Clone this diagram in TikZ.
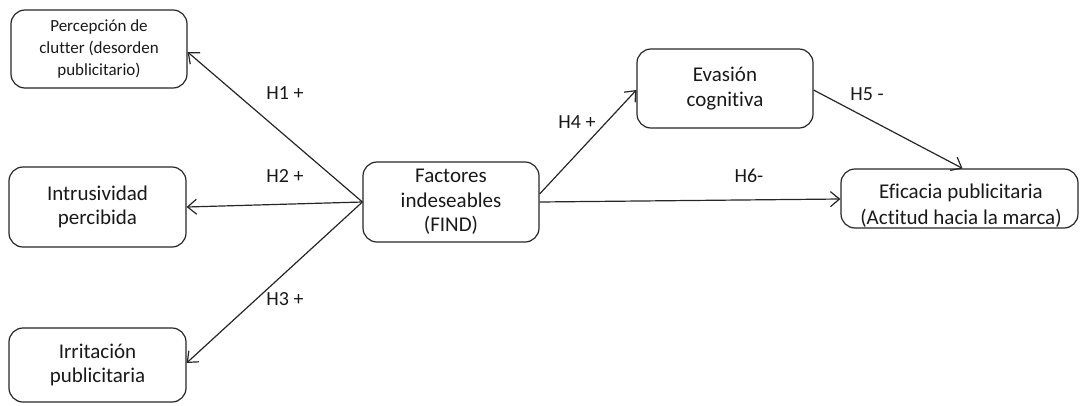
\documentclass[tikz,border=0pt]{standalone}
\usepackage{fontspec}
\setmainfont{Carlito}[Ligatures={NoCommon}]
\usetikzlibrary{arrows.meta,calc}

\tikzset{
  box/.style={draw=black!85, line width=1.2pt, rounded corners=14pt, align=center,
              inner sep=0pt, font=\fontsize{21}{24.5}\selectfont, text=black!90},
  smallbox/.style={box, font=\fontsize{17}{21.7}\selectfont},
  link/.style={draw=black!85, line width=1.2pt, -{Straight Barb[length=9pt,width=15pt,line width=1.2pt]}},
  hyp/.style={font=\fontsize{20}{24}\selectfont, text=black!90, inner sep=0pt}
}

\begin{document}
\begin{tikzpicture}[x=1pt,y=1pt]
  \useasboundingbox (0,0) rectangle (1080,-405);

  % outcome boxes on the left
  \node[smallbox, minimum width=176, minimum height=78] (clutter) at (99,-49)
    {Percepción de\\clutter (desorden\\publicitario)};
  \node[box, minimum width=177, minimum height=80] (intr) at (97.5,-207)
    {Intrusividad\\percibida};
  \node[box, minimum width=177, minimum height=74] (irr) at (97.5,-365)
    {Irritación\\publicitaria};

  % central construct
  \node[box, minimum width=176, minimum height=80] (find) at (451,-202)
    {Factores\\indeseables\\(FIND)};

  % mediator and final outcome
  \node[box, minimum width=176, minimum height=79] (eva) at (725,-88.5)
    {Evasión\\cognitiva};
  \node[box, minimum width=237, minimum height=59] (eff) at (959.5,-198.5) {};
  \node[hyp, align=center, font=\fontsize{21}{26}\selectfont] (efftext) at (961,-206)
    {Eficacia publicitaria\\(Actitud hacia la marca)};

  % hypothesised paths
  \draw[link] (find.west) -- ($(clutter.east)+(0,-3)$);
  \draw[link] (find.west) -- (intr.east);
  \draw[link] (find.west) -- ($(irr.east)+(0,2)$);
  \draw[link] ($(find.east)+(0,8)$) -- ($(eva.west)+(0,-1.5)$);
  \draw[link] (find.east) -- ($(eff.west)+(0,-0.5)$);
  \draw[link] ($(eva.east)+(0,-1.5)$) -- ($(eff.north)+(3,0)$);

  % path labels
  \node[hyp] (h1) at (285,-93) {H1 +};
  \node[hyp] (h2) at (285,-176) {H2 +};
  \node[hyp] (h3) at (285,-299) {H3 +};
  \node[hyp] (h4) at (577,-122) {H4 +};
  \node[hyp] (h5) at (867,-94) {H5 -};
  \node[hyp] (h6) at (749,-176) {H6-};
\end{tikzpicture}
\end{document}
